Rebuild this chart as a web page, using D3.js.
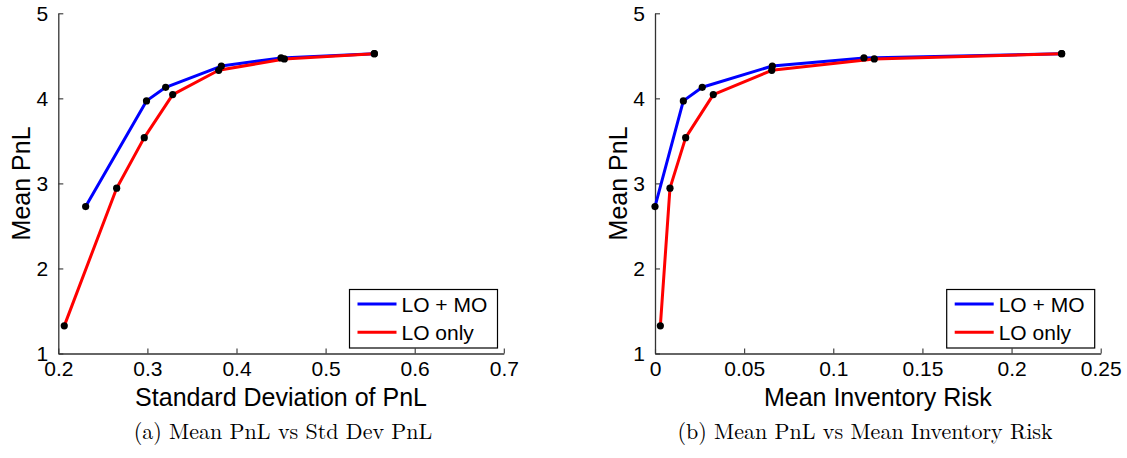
<!DOCTYPE html>
<html>
<head>
<meta charset="utf-8">
<script src="https://cdn.jsdelivr.net/npm/d3@7"></script>
<style>
  html, body { margin: 0; padding: 0; background: #fff; }
  svg { display: block; }
</style>
</head>
<body>
<svg id="chart" width="1127" height="458"></svg>
<script>
// ---- data ----
const seriesNames = ["LO + MO", "LO only"];
const seriesColors = ["#0000ff", "#ff0000"];

const pnlMO = [2.727, 3.97, 4.13, 4.38, 4.475, 4.525];
const sdMO = [0.2307, 0.299, 0.3205, 0.383, 0.450, 0.5547];
const invMO = [0.0, 0.0159, 0.0265, 0.0658, 0.1172, 0.2281];

const pnlLO = [1.325, 2.944, 3.538, 4.044, 4.33, 4.463, 4.525];
const sdLO = [0.2067, 0.2655, 0.2965, 0.3284, 0.380, 0.4537, 0.5547];
const invLO = [0.003, 0.0084, 0.0172, 0.0327, 0.0655, 0.123, 0.2281];

const yTicks = [1, 2, 3, 4, 5];
const xTicksA = [0.2, 0.3, 0.4, 0.5, 0.6, 0.7];
const xTicksB = [0, 0.05, 0.1, 0.15, 0.2, 0.25];
const xTickLabelsA = ["0.2", "0.3", "0.4", "0.5", "0.6", "0.7"];
const xTickLabelsB = ["0", "0.05", "0.1", "0.15", "0.2", "0.25"];

const svg = d3.select("#chart");
const sans = "Liberation Sans, Arial, Helvetica, sans-serif";
const serif = "Latin Modern Roman, CMU Serif, Liberation Serif, Times New Roman, serif";

function panel(opts) {
  const x = d3.scaleLinear().domain(opts.xDomain).range([opts.left, opts.right]);
  const y = d3.scaleLinear().domain([1, 5]).range([opts.bottom, opts.top]);
  const g = svg.append("g");

  // x axis (ticks inward)
  const xAxis = d3.axisBottom(x).tickValues(opts.xTicks)
    .tickFormat((d, i) => opts.xTickLabels[i]).tickSizeInner(-5).tickSizeOuter(0).tickPadding(8);
  const gx = g.append("g").attr("transform", `translate(0,${opts.bottom})`).call(xAxis);
  gx.select(".domain").attr("stroke", "#333").attr("stroke-width", 1.3);
  gx.selectAll(".tick line").attr("stroke", "#333").attr("stroke-width", 1.1);
  gx.selectAll(".tick text").attr("font-family", sans).attr("font-size", 21).attr("fill", "#000");

  // y axis (ticks inward)
  const yAxis = d3.axisLeft(y).tickValues(yTicks).tickFormat(d3.format("d"))
    .tickSizeInner(-5).tickSizeOuter(0).tickPadding(10);
  const gy = g.append("g").attr("transform", `translate(${opts.left},0)`).call(yAxis);
  gy.select(".domain").attr("stroke", "#333").attr("stroke-width", 1.3);
  gy.selectAll(".tick line").attr("stroke", "#333").attr("stroke-width", 1.1);
  gy.selectAll(".tick text").attr("font-family", sans).attr("font-size", 21).attr("fill", "#000");

  // series lines
  const line = d3.line().x(d => x(d[0])).y(d => y(d[1]));
  const series = [
    { xs: opts.xMO, ys: pnlMO, color: seriesColors[0] },
    { xs: opts.xLO, ys: pnlLO, color: seriesColors[1] }
  ];
  series.forEach(s => {
    const pts = s.xs.map((v, i) => [v, s.ys[i]]);
    g.append("path").datum(pts).attr("d", line)
      .attr("fill", "none").attr("stroke", s.color).attr("stroke-width", 3)
      .attr("stroke-linejoin", "round");
  });
  series.forEach(s => {
    const pts = s.xs.map((v, i) => [v, s.ys[i]]);
    g.selectAll(null).data(pts).enter().append("circle")
      .attr("cx", d => x(d[0])).attr("cy", d => y(d[1])).attr("r", 3.6).attr("fill", "#000");
  });

  // axis labels
  g.append("text").attr("x", (opts.left + opts.right) / 2).attr("y", 406)
    .attr("text-anchor", "middle").attr("font-family", sans).attr("font-size", 25)
    .text(opts.xLabel);
  g.append("text").attr("transform", `translate(${opts.yLabelX},${(opts.top + opts.bottom) / 2}) rotate(-90)`)
    .attr("text-anchor", "middle").attr("font-family", sans).attr("font-size", 25)
    .text("Mean PnL");

  // legend
  const lg = g.append("g");
  lg.append("rect").attr("x", opts.legX).attr("y", 289.5).attr("width", 148).attr("height", 58.5)
    .attr("fill", "#fff").attr("stroke", "#000").attr("stroke-width", 1.2);
  seriesNames.forEach((name, i) => {
    const yy = 304 + i * 28.3;
    lg.append("line").attr("x1", opts.legX + 8).attr("x2", opts.legX + 47)
      .attr("y1", yy).attr("y2", yy).attr("stroke", seriesColors[i]).attr("stroke-width", 3);
    lg.append("text").attr("x", opts.legX + 52).attr("y", yy).attr("dy", "0.36em")
      .attr("font-family", sans).attr("font-size", 21).text(name);
  });

  // caption
  g.append("text").attr("x", opts.capX).attr("y", 439).attr("text-anchor", "middle")
    .attr("font-family", serif).attr("font-size", 22).text(opts.caption);
}

panel({
  left: 58.3, right: 503.8, top: 13.3, bottom: 353.5,
  xDomain: [0.2, 0.7], xTicks: xTicksA, xTickLabels: xTickLabelsA,
  xMO: sdMO, xLO: sdLO,
  xLabel: "Standard Deviation of PnL", yLabelX: 30,
  legX: 349.5, capX: 283, caption: "(a) Mean PnL vs Std Dev PnL"
});

panel({
  left: 655, right: 1100.7, top: 13.3, bottom: 353.5,
  xDomain: [0, 0.25], xTicks: xTicksB, xTickLabels: xTickLabelsB,
  xMO: invMO, xLO: invLO,
  xLabel: "Mean Inventory Risk", yLabelX: 627,
  legX: 946.7, capX: 865, caption: "(b) Mean PnL vs Mean Inventory Risk"
});
</script>
</body>
</html>
